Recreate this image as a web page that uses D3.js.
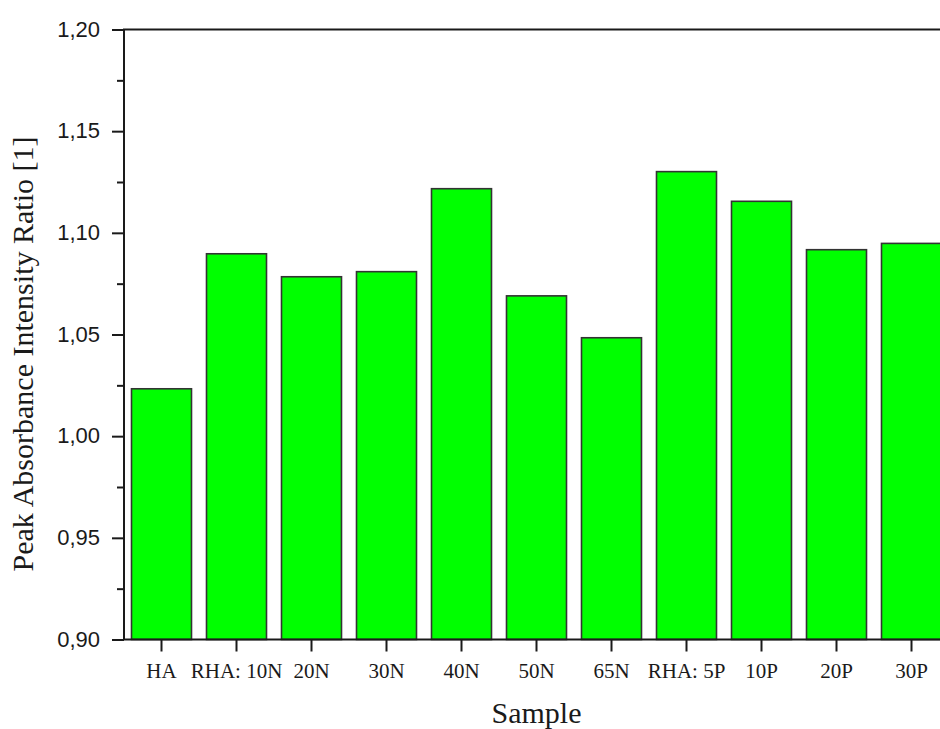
<!DOCTYPE html>
<html><head><meta charset="utf-8">
<script src="https://cdn.jsdelivr.net/npm/d3@7"></script>
<style>body{margin:0;background:#fff}svg{display:block}</style>
</head><body>
<svg id="c" width="940" height="729"></svg>
<script>
const categories = ["HA","RHA: 10N","20N","30N","40N","50N","65N","RHA: 5P","10P","20P","30P"];
const values = [1.0233,1.0897,1.0784,1.0809,1.1217,1.069,1.0484,1.1301,1.1155,1.0917,1.0948];
const yTicks = [0.90,0.95,1.00,1.05,1.10,1.15,1.20];
const yMinorTicks = [0.925,0.975,1.025,1.075,1.125,1.175];
const xTitle = "Sample";
const yTitle = "Peak Absorbance Intensity Ratio [1]";

const svg = d3.select("#c");
const L = 124, R = 949, T = 29.5, B = 639.5;
const x = d3.scaleBand().domain(categories).range([L, R]).paddingInner(0.2).paddingOuter(0.1);
const y = d3.scaleLinear().domain([0.90, 1.20]).range([B, T]);
const fmt = v => d3.format(".2f")(v).replace(".", ",");

// bars
svg.append("g").selectAll("rect").data(values).join("rect")
  .attr("x", (d,i) => x(categories[i]))
  .attr("width", x.bandwidth())
  .attr("y", d => y(d))
  .attr("height", d => y(0.90) - y(d))
  .attr("fill", "#00ff00")
  .attr("stroke", "#333")
  .attr("stroke-width", 1.6);

// frame
svg.append("rect").attr("x", L).attr("y", T).attr("width", R - L).attr("height", B - T)
  .attr("fill", "none").attr("stroke", "#1a1a1a").attr("stroke-width", 2);

// y axis
const yAx = svg.append("g").attr("transform", `translate(${L},0)`)
  .call(d3.axisLeft(y).tickValues(yTicks).tickSize(12).tickPadding(12).tickFormat(fmt));
yAx.select(".domain").remove();
yAx.selectAll(".tick line").attr("stroke", "#1a1a1a").attr("stroke-width", 2);
yAx.selectAll(".tick text").attr("font-family", "Liberation Sans, Arial, sans-serif")
  .attr("font-size", 22).attr("fill", "#1a1a1a").attr("dy", "0.3em");
const yMin = svg.append("g").attr("transform", `translate(${L},0)`)
  .call(d3.axisLeft(y).tickValues(yMinorTicks).tickSize(7).tickFormat(""));
yMin.select(".domain").remove();
yMin.selectAll(".tick line").attr("stroke", "#1a1a1a").attr("stroke-width", 2);

// x axis
const xAx = svg.append("g").attr("transform", `translate(0,${B})`)
  .call(d3.axisBottom(x).tickSize(12).tickPadding(14));
xAx.select(".domain").remove();
xAx.selectAll(".tick line").attr("stroke", "#1a1a1a").attr("stroke-width", 2);
xAx.selectAll(".tick text").attr("font-family", "Liberation Serif, Times New Roman, serif")
  .attr("font-size", 21).attr("fill", "#1a1a1a").attr("y", 38).attr("dy", 0);

// titles
svg.append("text").attr("x", (L + R) / 2).attr("y", 723)
  .attr("text-anchor", "middle").attr("font-family", "Liberation Serif, Times New Roman, serif")
  .attr("font-size", 30).attr("fill", "#1a1a1a").text(xTitle);
svg.append("text").attr("transform", "translate(33,354) rotate(-90)")
  .attr("text-anchor", "middle").attr("font-family", "Liberation Serif, Times New Roman, serif")
  .attr("font-size", 30).attr("fill", "#1a1a1a").text(yTitle);
</script>
</body></html>
